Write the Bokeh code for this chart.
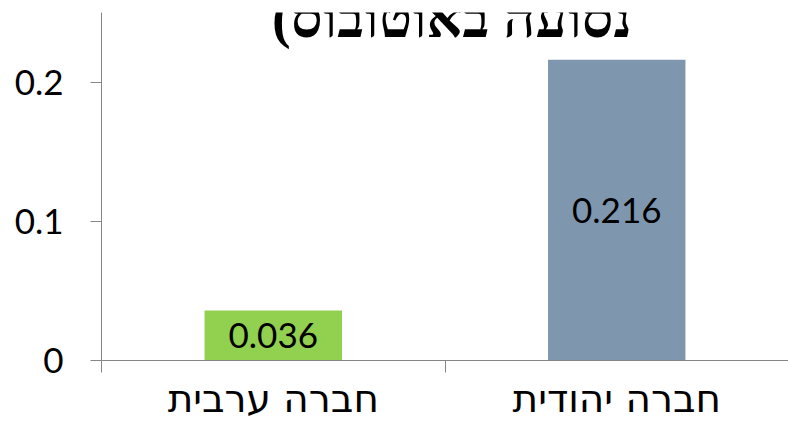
from bokeh.plotting import figure
from bokeh.models import Range1d, FixedTicker, Label, ColumnDataSource, LabelSet
from bokeh.core.properties import value
from bokeh.embed import file_html
from bokeh.resources import INLINE

categories = ["חברה ערבית", "חברה יהודית"]
values = [0.036, 0.216]
colors = ["#92d050", "#7f97ae"]
value_labels = ["0.036", "0.216"]
y_ticks = [0, 0.1, 0.2]
y_tick_labels = ["0", "0.1", "0.2"]
title_text = "נסועה באוטובוס)\u200f"

xs = [i + 0.5 for i in range(len(categories))]
src = ColumnDataSource(dict(x=xs, top=values, mid=[v / 2 for v in values],
                            color=colors, lab=value_labels))

p = figure(width=788, height=423, output_backend="svg", toolbar_location=None,
           x_range=Range1d(0, len(categories)), y_range=Range1d(0, 0.25))
p.min_border_left = 101
p.min_border_right = 0
p.min_border_top = 12
p.min_border_bottom = 62
p.outline_line_color = None
p.xgrid.visible = False
p.ygrid.visible = False
p.background_fill_color = "white"

p.vbar(x="x", top="top", width=0.4, color="color", line_color=None, source=src)
p.add_layout(LabelSet(x="x", y="mid", text="lab", source=src, text_align="center",
                      text_baseline="middle", text_font=value("Lato"),
                      text_font_size="35px", text_color="black"))

axis_color = "#868686"
# y axis
ya = p.yaxis[0]
ya.ticker = FixedTicker(ticks=y_ticks)
ya.major_label_overrides = {t: s for t, s in zip(y_ticks, y_tick_labels)}
ya.major_label_text_font = "Lato"
ya.major_label_text_font_size = "35px"
ya.major_label_text_color = "black"
ya.major_tick_in = 0
ya.major_tick_out = 11
ya.minor_tick_line_color = None
ya.axis_line_color = axis_color
ya.major_tick_line_color = axis_color
ya.major_label_standoff = 27

# x axis
xa = p.xaxis[0]
xa.ticker = FixedTicker(ticks=xs, minor_ticks=list(range(len(categories) + 1)))
xa.major_label_overrides = {x: c for x, c in zip(xs, categories)}
xa.major_label_text_font = "DejaVu Sans"
xa.major_label_text_font_size = "39px"
xa.major_label_text_color = "black"
xa.major_tick_line_color = None
xa.major_tick_out = 0
xa.major_tick_in = 0
xa.minor_tick_in = 0
xa.minor_tick_out = 12
xa.minor_tick_line_color = axis_color
xa.axis_line_color = axis_color
xa.major_label_standoff = 3

p.add_layout(Label(x=1.02, y=0.2464, text=title_text, text_align="center",
                   text_baseline="alphabetic", text_font="Liberation Serif",
                   text_font_style="bold", text_font_size="56px", text_color="black"))

open("out.html", "w").write(file_html(p, INLINE))
